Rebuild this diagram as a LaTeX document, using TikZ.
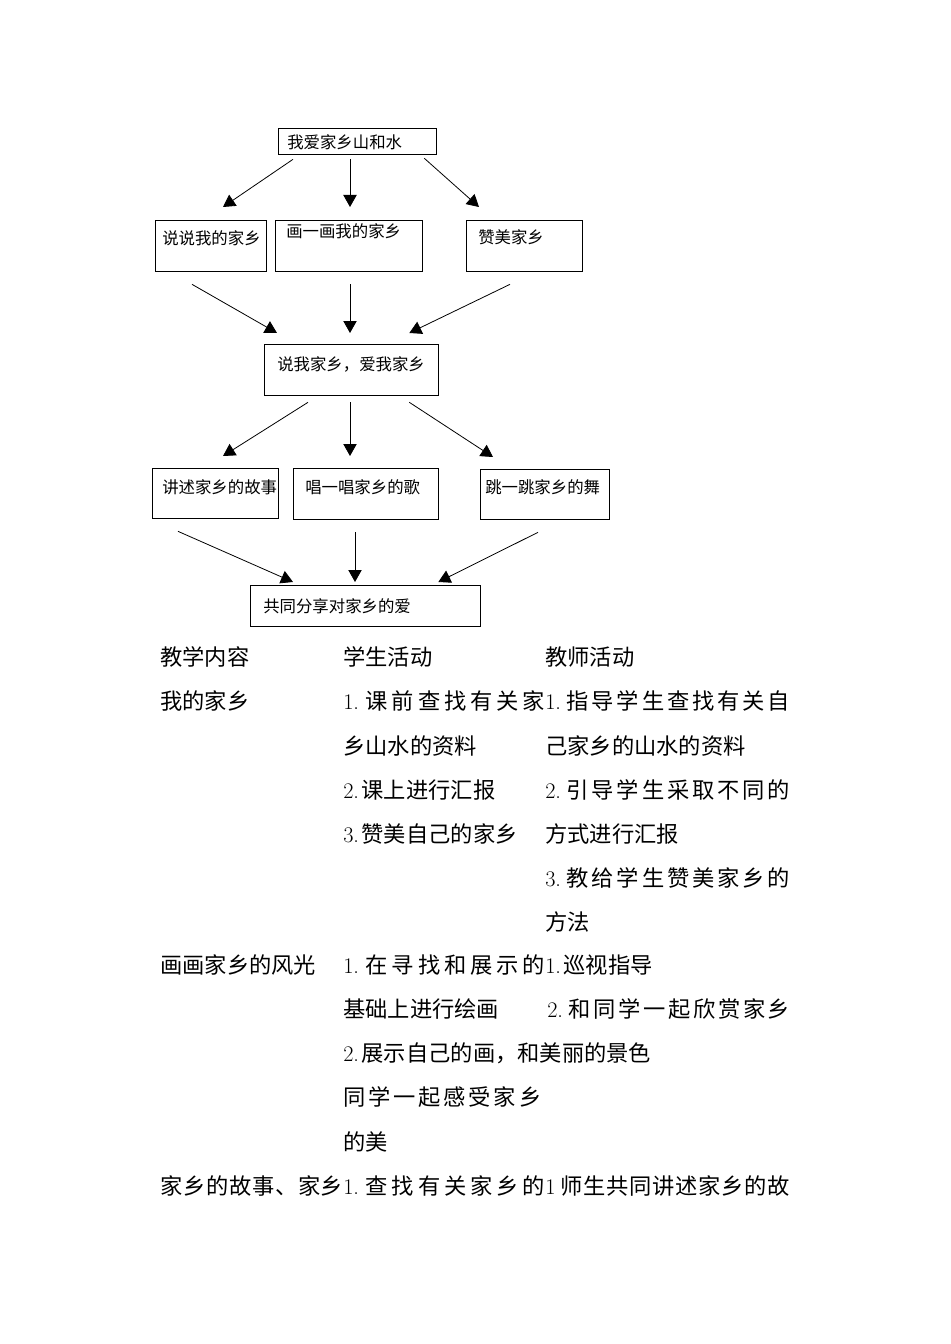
\documentclass[tikz,border=0pt]{standalone}
\usepackage{fontspec}
\usetikzlibrary{arrows.meta,calc}
\newfontfamily\cjk{Noto Sans CJK SC}
\newcommand{\nb}[1]{{\normalfont #1}\hskip 2pt plus 1fil}
% spread a row of characters over a given width
\def\spr#1{\sprx#1\relax}
\def\sprx#1#2{#1\ifx\relax#2\else\hskip 0pt plus 1fil\expandafter\sprx\expandafter#2\fi}
\newcommand{\jl}[2]{\makebox[#1][s]{#2}}

\begin{document}
\begin{tikzpicture}[x=0.75pt,y=-0.75pt,
    box/.style={draw,line width=1pt,inner sep=0pt,anchor=north west},
    btext/.style={anchor=west,inner sep=0pt,font=\cjk\fontsize{12.3}{14}\selectfont},
    ltext/.style={anchor=west,inner sep=0pt,font=\cjk\fontsize{16.7}{20}\selectfont},
    arr/.style={line width=0.6pt,-{Triangle[width=10pt,length=9pt]}}]

    \useasboundingbox (0,0) rectangle (950,1344);

    % flow chart
    \node [box,minimum width=118.5pt,minimum height=19.5pt] (top) at (278,128) {};
    \node [btext] (topt) at (287,142) {我爱家乡山和水};

    \node [box,minimum width=83.25pt,minimum height=38.25pt] (say) at (155,220) {};
    \node [btext] (sayt) at (162,238) {说说我的家乡};
    \node [box,minimum width=110.25pt,minimum height=38.25pt] (paint) at (275,220) {};
    \node [btext] (paintt) at (286,231) {画一画我的家乡};
    \node [box,minimum width=87pt,minimum height=38.25pt] (praise) at (466,220) {};
    \node [btext] (praiset) at (478,237) {赞美家乡};

    \node [box,minimum width=130.5pt,minimum height=38.25pt] (love) at (264,344) {};
    \node [btext] (lovet) at (277,364) {说我家乡，爱我家乡};

    \node [box,minimum width=94.5pt,minimum height=37.5pt] (tell) at (152,468) {};
    \node [btext] (tellt) at (162,487) {讲述家乡的故事};
    \node [box,minimum width=108.75pt,minimum height=38.25pt] (sing) at (293,468) {};
    \node [btext] (singt) at (305,487) {唱一唱家乡的歌};
    \node [box,minimum width=96.75pt,minimum height=37.5pt] (dance) at (480,469) {};
    \node [btext] (dancet) at (485,487) {跳一跳家乡的舞};

    \node [box,minimum width=172.5pt,minimum height=30.75pt] (share) at (250,585) {};
    \node [btext] (sharet) at (263,606) {共同分享对家乡的爱};

    \draw [arr] ($(top.south west)+(15,4)$) -- ($(say.north west)+(68,-13)$);
    \draw [arr] ($(top.south west)+(72,4)$) -- ($(paint.north west)+(75,-13)$);
    \draw [arr] ($(top.south east)+(-13,3)$) -- ($(praise.north west)+(13,-13)$);

    \draw [arr] ($(say.south west)+(37,12)$) -- ($(love.north west)+(13,-11)$);
    \draw [arr] ($(paint.south west)+(75,12)$) -- ($(love.north west)+(86,-11)$);
    \draw [arr] ($(praise.south west)+(44,12)$) -- ($(love.north east)+(-30,-11)$);

    \draw [arr] ($(love.south west)+(44,6)$) -- ($(tell.north west)+(71,-12)$);
    \draw [arr] ($(love.south west)+(86,6)$) -- ($(sing.north west)+(57,-12)$);
    \draw [arr] ($(love.south east)+(-30,6)$) -- ($(dance.north west)+(13,-12)$);

    \draw [arr] ($(tell.south west)+(26,12)$) -- ($(share.north west)+(43,-3)$);
    \draw [arr] ($(sing.south west)+(62,12)$) -- ($(share.north west)+(105,-3)$);
    \draw [arr] ($(dance.south west)+(58,12)$) -- ($(share.north east)+(-43,-3)$);

    % table text
    \node [ltext] (h1) at (160,657) {教学内容};
    \node [ltext] (h2) at (343,657) {学生活动};
    \node [ltext] (h3) at (545,657) {教师活动};

    \node [ltext] (a1) at (160,701) {我的家乡};
    \node [ltext] (a2) at (343,701) {\jl{151.5pt}{\nb{1.}\spr{课前查找有关家}}};
    \node [ltext] (a3) at (545,701) {\jl{183.75pt}{\nb{1.}\spr{指导学生查找有关自}}};
    \node [ltext] (a4) at (343,746) {乡山水的资料};
    \node [ltext] (a5) at (545,746) {己家乡的山水的资料};
    \node [ltext] (a6) at (343,790) {\nb{2.}课上进行汇报};
    \node [ltext] (a7) at (545,790) {\jl{183.75pt}{\nb{2.}\spr{引导学生采取不同的}}};
    \node [ltext] (a8) at (343,834) {\nb{3.}赞美自己的家乡};
    \node [ltext] (a9) at (545,834) {方式进行汇报};
    \node [ltext] (a10) at (545,878) {\jl{183.75pt}{\nb{3.}\spr{教给学生赞美家乡的}}};
    \node [ltext] (a11) at (545,922) {方法};

    \node [ltext] (b1) at (160,965) {画画家乡的风光};
    \node [ltext] (b2) at (343,965) {\jl{151.5pt}{\nb{1.}\spr{在寻找和展示的}}};
    \node [ltext] (b3) at (545,965) {\nb{1.}巡视指导};
    \node [ltext] (b4) at (343,1009) {基础上进行绘画};
    \node [ltext] (b5) at (547,1009) {\jl{182.25pt}{\nb{2.}\spr{和同学一起欣赏家乡}}};
    \node [ltext] (b6) at (343,1053) {\nb{2.}展示自己的画，和美丽的景色};
    \node [ltext] (b7) at (343,1097) {\jl{148.5pt}{\spr{同学一起感受家乡}}};
    \node [ltext] (b8) at (343,1142) {的美};

    \node [ltext] (c1) at (160,1186) {\jl{137.25pt}{\spr{家乡的故事、家乡}}};
    \node [ltext] (c2) at (343,1186) {\jl{151.5pt}{\nb{1.}\spr{查找有关家乡的}}};
    \node [ltext] (c3) at (545,1186) {\jl{183.75pt}{{\normalfont 1}\hskip 4pt\spr{师生共同讲述家乡的故}}};

\end{tikzpicture}
\end{document}
